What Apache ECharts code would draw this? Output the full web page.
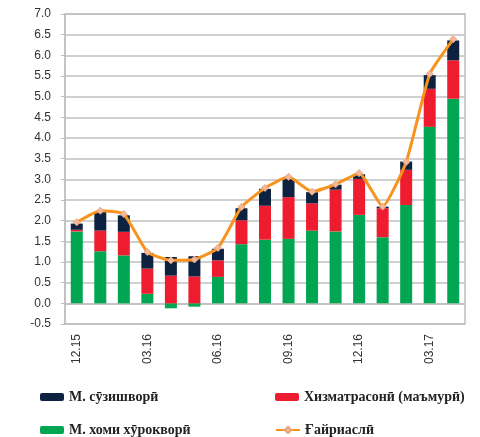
<!DOCTYPE html>
<html>
<head>
<meta charset="utf-8">
<script src="https://cdn.jsdelivr.net/npm/echarts@6/dist/echarts.min.js"></script>
<style>
  html, body { margin: 0; padding: 0; background: #fff; }
  #chart { width: 480px; height: 437px; }
</style>
</head>
<body>
<div id="chart"></div>
<script>
var months = ['12.15', '01.16', '02.16', '03.16', '04.16', '05.16', '06.16', '07.16', '08.16',
  '09.16', '10.16', '11.16', '12.16', '01.17', '02.17', '03.17', '04.17'];
// components
var food = [1.74, 1.26, 1.16, 0.23, -0.12, -0.08, 0.64, 1.43, 1.54, 1.56, 1.76, 1.74, 2.14, 1.60, 2.38, 4.27, 4.95];
var services = [0.04, 0.50, 0.57, 0.61, 0.67, 0.65, 0.40, 0.58, 0.82, 1.01, 0.66, 1.01, 0.87, 0.70, 0.85, 0.92, 0.93];
var fuel = [0.15, 0.45, 0.40, 0.38, 0.45, 0.49, 0.28, 0.29, 0.41, 0.46, 0.27, 0.12, 0.11, 0.04, 0.20, 0.33, 0.48];
var nonCore = [1.96, 2.24, 2.16, 1.24, 1.04, 1.06, 1.34, 2.33, 2.79, 3.06, 2.70, 2.88, 3.15, 2.34, 3.42, 5.55, 6.39];

var names = ['М. сӯзишворӣ', 'Хизматрасонӣ (маъмурӣ)', 'М. хоми хӯрокворӣ', 'Ғайриаслӣ'];
var colors = ['#0D2240', '#ED1C2E', '#00A651', '#F7931E'];

var chart = echarts.init(document.getElementById('chart'));

var legendFont = { fontFamily: 'Liberation Serif', fontSize: 14, fontWeight: 'bold', color: '#222' };
function legendAt(name, left, top) {
  return {
    data: [name],
    left: left,
    top: top,
    padding: 0,
    itemWidth: 24,
    itemHeight: 8,
    itemGap: 2,
    textStyle: legendFont,
    selectedMode: false
  };
}

chart.setOption({
  animation: false,
  color: colors,
  grid: {
    left: 65, right: 15, top: 14, bottom: 113,
    show: true, borderColor: '#BFBFBF', borderWidth: 1.5
  },
  legend: [
    legendAt(names[0], 40, 390),
    legendAt(names[1], 275, 390),
    legendAt(names[2], 40, 423),
    legendAt(names[3], 275, 423)
  ],
  xAxis: [
    {
      type: 'category',
      data: months,
      axisLine: { onZero: true, lineStyle: { color: '#BFBFBF', width: 1.5 } },
      axisTick: { interval: 2, length: 4, lineStyle: { color: '#BFBFBF' } },
      axisLabel: { show: false }
    },
    {
      type: 'category',
      data: months,
      position: 'bottom',
      axisLine: { show: false, onZero: false },
      axisTick: { show: false },
      axisLabel: {
        interval: 2,
        rotate: 90,
        margin: 10,
        fontFamily: 'Liberation Sans',
        fontSize: 12,
        color: '#333'
      }
    }
  ],
  yAxis: {
    type: 'value',
    min: -0.5,
    max: 7,
    interval: 0.5,
    axisLine: { show: true, lineStyle: { color: '#BFBFBF', width: 1.5 } },
    axisTick: { show: true, length: 4, lineStyle: { color: '#BFBFBF' } },
    splitLine: { lineStyle: { color: '#BFBFBF', width: 1.5 } },
    axisLabel: {
      formatter: function (v) { return v.toFixed(1); },
      fontFamily: 'Liberation Sans',
      fontSize: 12,
      color: '#333',
      margin: 14
    }
  },
  series: [
    {
      name: names[2], type: 'bar', stack: 'cpi', data: food, barWidth: 12,
      itemStyle: { color: colors[2] }
    },
    {
      name: names[1], type: 'bar', stack: 'cpi', data: services, barWidth: 12,
      itemStyle: { color: colors[1] }
    },
    {
      name: names[0], type: 'bar', stack: 'cpi', data: fuel, barWidth: 12,
      itemStyle: { color: colors[0] }
    },
    {
      name: names[3], type: 'line', data: nonCore, smooth: 0.15,
      symbol: 'diamond', symbolSize: 7,
      lineStyle: { color: colors[3], width: 3 },
      itemStyle: { color: '#F3B99B', borderColor: '#E9A27A', borderWidth: 1 },
      z: 5
    }
  ]
});
</script>
</body>
</html>
